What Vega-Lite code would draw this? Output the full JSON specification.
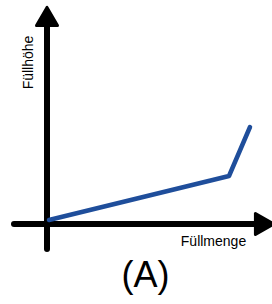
{
  "$schema": "https://vega.github.io/schema/vega-lite/v6.json",
  "width": 272,
  "height": 304,
  "autosize": {"type": "none"},
  "padding": 0,
  "background": "white",
  "config": {"view": {"stroke": null}},
  "layer": [
    {
      "data": {"values": [
        {"x": 0, "y": -25, "x2": 0, "y2": 200},
        {"x": -33, "y": 0, "x2": 212, "y2": 0}
      ]},
      "mark": {"type": "rule", "color": "black", "strokeWidth": 6, "strokeCap": "round"},
      "encoding": {
        "x": {"field": "x", "type": "quantitative", "scale": {"domain": [-47, 225], "nice": false, "zero": false}, "axis": null},
        "y": {"field": "y", "type": "quantitative", "scale": {"domain": [-80, 224], "nice": false, "zero": false}, "axis": null},
        "x2": {"field": "x2"},
        "y2": {"field": "y2"}
      }
    },
    {
      "data": {"values": [
        {"x": 0, "y": 207.5, "shape": "triangle-up"},
        {"x": 217.5, "y": 0, "shape": "triangle-right"}
      ]},
      "mark": {"type": "point", "filled": true, "color": "black", "stroke": "black", "strokeWidth": 3, "strokeJoin": "round", "opacity": 1, "size": 440},
      "encoding": {
        "x": {"field": "x", "type": "quantitative"},
        "y": {"field": "y", "type": "quantitative"},
        "shape": {"field": "shape", "type": "nominal", "scale": null}
      }
    },
    {
      "data": {"values": [
        {"x": 2, "y": 4},
        {"x": 182, "y": 48},
        {"x": 203, "y": 97}
      ]},
      "mark": {"type": "line", "color": "#1f4e9b", "strokeWidth": 4.5, "strokeCap": "round", "strokeJoin": "round"},
      "encoding": {
        "x": {"field": "x", "type": "quantitative"},
        "y": {"field": "y", "type": "quantitative"}
      }
    },
    {
      "data": {"values": [
        {"x": -18.5, "y": 161.5, "label": "Füllhöhe"}
      ]},
      "mark": {"type": "text", "font": "Liberation Sans", "fontSize": 14, "angle": 270, "align": "center", "baseline": "middle", "color": "black"},
      "encoding": {
        "x": {"field": "x", "type": "quantitative"},
        "y": {"field": "y", "type": "quantitative"},
        "text": {"field": "label"}
      }
    },
    {
      "data": {"values": [
        {"x": 166.5, "y": -18, "label": "Füllmenge"}
      ]},
      "mark": {"type": "text", "font": "Liberation Sans", "fontSize": 14, "align": "center", "baseline": "middle", "color": "black"},
      "encoding": {
        "x": {"field": "x", "type": "quantitative"},
        "y": {"field": "y", "type": "quantitative"},
        "text": {"field": "label"}
      }
    },
    {
      "data": {"values": [
        {"x": 98.5, "y": -63, "label": "(A)"}
      ]},
      "mark": {"type": "text", "font": "Liberation Sans", "fontSize": 36, "align": "center", "baseline": "alphabetic", "color": "black"},
      "encoding": {
        "x": {"field": "x", "type": "quantitative"},
        "y": {"field": "y", "type": "quantitative"},
        "text": {"field": "label"}
      }
    }
  ]
}
